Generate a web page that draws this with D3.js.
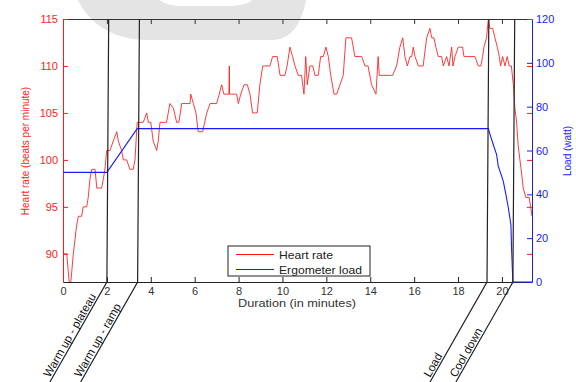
<!DOCTYPE html>
<html>
<head>
<meta charset="utf-8">
<script src="https://cdn.jsdelivr.net/npm/d3@7"></script>
<style>
  body { margin: 0; background: #fff; }
  svg { display: block; font-family: "Liberation Sans", Arial, sans-serif; }
</style>
</head>
<body>
<svg id="chart" width="576" height="382"></svg>
<script>
// heart rate samples (minutes, beats per minute)
const hrTime = [0, 0.17, 0.32, 0.47, 0.62, 0.70, 0.85, 0.92, 1.08, 1.15, 1.23, 1.31, 1.46, 1.54, 1.76, 1.84, 1.91, 1.99,
  2.14, 2.29, 2.45, 2.52, 2.67, 2.75, 2.90, 3.05, 3.20, 3.28, 3.38, 3.66, 3.81, 3.89, 4.00, 4.11, 4.27, 4.34, 4.42,
  4.72, 4.87, 5.03, 5.18, 5.28, 5.41, 5.79, 5.82, 5.94, 6.06, 6.16, 6.36, 6.55, 6.70, 7.00, 7.12, 7.23, 7.33, 7.56,
  7.58, 7.59, 7.91, 7.99, 8.10, 8.25, 8.40, 8.52, 8.64, 8.85, 8.97, 9.10, 9.43, 9.55, 9.76, 9.89, 10.11, 10.21, 10.34,
  10.46, 10.57, 10.72, 10.87, 10.98, 11.06, 11.13, 11.25, 11.38, 11.48, 11.63, 11.74, 11.86, 11.98, 12.09, 12.20,
  12.35, 12.47, 12.62, 12.77, 12.89, 13.15, 13.30, 13.61, 13.76, 13.90, 14.06, 14.26, 14.36, 14.41, 14.67, 15.02,
  15.20, 15.35, 15.48, 15.58, 15.69, 15.81, 15.89, 15.96, 16.04, 16.19, 16.41, 16.57, 16.72, 16.80, 16.90, 16.99,
  17.10, 17.25, 17.33, 17.48, 17.59, 17.71, 17.77, 17.86, 18.01, 18.21, 18.27, 18.77, 18.92, 19.04, 19.12, 19.18,
  19.30, 19.38, 19.45, 19.58, 19.68, 19.79, 19.88, 19.94, 20.03, 20.14, 20.24, 20.33, 20.43, 20.52, 20.59, 20.67,
  20.74, 20.82, 20.90, 20.97, 21.09, 21.24, 21.31, 21.37];
const hrBpm = [90, 90, 86, 90, 93, 94, 94, 95, 95, 96, 98, 99, 99, 97, 97, 98, 99, 101,
  101, 102, 103, 102, 101, 100, 100, 99, 99, 100, 104, 104, 105, 104, 104, 102, 101, 102, 104,
  104, 106, 105.5, 104, 104, 106, 106, 107, 106, 105, 103, 103, 105, 106, 106, 107, 108, 107, 107,
  110, 107, 107, 106, 107, 108, 108, 107, 105, 105, 108, 110, 110, 111, 111, 109, 109, 110, 112,
  111, 110, 109, 109, 107, 111, 108, 110, 110, 109, 109, 111, 111, 112, 111, 109,
  107, 107, 108, 109, 113, 113, 111, 111, 110, 110, 108, 107, 111, 109, 109, 109,
  110, 112, 113, 111, 110, 111, 111, 112, 111, 110, 110, 113, 114, 113, 113, 112,
  111, 111, 110, 111, 110, 112, 110, 111, 112, 112, 111, 111, 110, 110, 111, 112,
  113, 115, 114, 114, 113, 112, 111, 110, 111, 110, 111, 110, 110, 108, 105.5, 104,
  101.5, 100, 98.5, 97, 96, 96, 95, 94];

// ergometer load (minutes, watt)
const loadTime = [0, 2.0, 3.38, 19.38, 19.53, 19.76, 19.83, 20.06, 20.18, 20.29, 20.41, 20.44, 20.49, 20.5, 21.37];
const loadWatt = [50, 50, 70, 70, 65, 58, 53, 46, 40, 34, 26, 15, 2, 0, 0];

const xTicks = [0, 2, 4, 6, 8, 10, 12, 14, 16, 18, 20];
const hrTicks = [90, 95, 100, 105, 110, 115];
const loadTicks = [0, 20, 40, 60, 80, 100, 120];

const phaseTimes = [2.0, 3.4, 19.32, 20.5];
const phaseLabels = ['Warm up - plateau', 'Warm up - ramp', 'Load', 'Cool down'];

const RED = '#ff1a1a';
const BLUE = '#1a1aff';
const M = { left: 63, right: 532, top: 19, bottom: 282 };

const svg = d3.select('#chart');

// faint grey blot at top (scan artefact in the original)
svg.append('path')
  .attr('d', 'M78,0 C88,22 112,40 148,40 L272,40 C292,40 302,22 306,0 L252,0 C248,4 238,6 225,6 L185,6 C172,6 164,4 160,0 Z')
  .attr('fill', '#e4e4e4');

const x = d3.scaleLinear().domain([0, 21.37]).range([M.left, M.right]);
const yHr = d3.scaleLinear().domain([87, 115]).range([M.bottom, M.top]);
const yLoad = d3.scaleLinear().domain([0, 120]).range([M.bottom, M.top]);

svg.append('defs').append('clipPath').attr('id', 'plot-clip')
  .append('rect')
  .attr('x', M.left).attr('y', M.top)
  .attr('width', M.right - M.left).attr('height', M.bottom - M.top);

// top border with inward ticks
const topAxis = svg.append('g')
  .attr('transform', `translate(0,${M.top})`)
  .call(d3.axisTop(x).tickValues(xTicks).tickSize(-5).tickSizeOuter(0).tickFormat(''));
topAxis.selectAll('path, line').attr('stroke', '#333');

// bottom axis
const botAxis = svg.append('g')
  .attr('transform', `translate(0,${M.bottom})`)
  .call(d3.axisBottom(x).tickValues(xTicks).tickSize(-5).tickSizeOuter(0).tickPadding(5));
botAxis.selectAll('path, line').attr('stroke', '#222');
botAxis.selectAll('text').attr('font-size', 11).attr('fill', '#333').attr('font-family', null);

// left axis (heart rate)
const leftAxis = svg.append('g')
  .attr('transform', `translate(${M.left},0)`)
  .call(d3.axisLeft(yHr).tickValues(hrTicks).tickSize(-5).tickSizeOuter(0).tickPadding(5));
leftAxis.selectAll('path, line').attr('stroke', RED);
leftAxis.selectAll('text').attr('font-size', 11).attr('fill', RED).attr('font-family', null);

// right axis (load) plus mirrored heart-rate ticks
const rightAxis = svg.append('g')
  .attr('transform', `translate(${M.right},0)`)
  .call(d3.axisRight(yLoad).tickValues(loadTicks).tickSize(-5).tickSizeOuter(0).tickPadding(4));
rightAxis.selectAll('path, line').attr('stroke', BLUE);
rightAxis.selectAll('text').attr('font-size', 11).attr('fill', BLUE).attr('font-family', null);

const rightHr = svg.append('g')
  .attr('transform', `translate(${M.right},0)`)
  .call(d3.axisRight(yHr).tickValues(hrTicks).tickSize(-5).tickFormat(''));
rightHr.select('.domain').remove();
rightHr.selectAll('line').attr('stroke', RED);

// data lines
const plot = svg.append('g').attr('clip-path', 'url(#plot-clip)');

const hrLine = d3.line().x((d, i) => x(hrTime[i])).y(d => yHr(d));
plot.append('path')
  .datum(hrBpm)
  .attr('d', hrLine)
  .attr('fill', 'none')
  .attr('stroke', RED)
  .attr('stroke-width', 1)
  .attr('stroke-opacity', 0.85);

const loadLine = d3.line().x((d, i) => x(loadTime[i])).y(d => yLoad(d));
svg.append('path')
  .datum(loadWatt)
  .attr('d', loadLine)
  .attr('fill', 'none')
  .attr('stroke', BLUE)
  .attr('stroke-width', 1.1);

// phase markers
const SLANT = 57 / 100; // horizontal shift per pixel below the axis
const ANGLE = -Math.atan2(100, 57) * 180 / Math.PI;
const phases = svg.append('g');
phaseTimes.forEach((t, i) => {
  const xb = x(t);
  phases.append('path')
    .attr('d', `M${xb + 1.8},${M.top} L${xb},${M.bottom} L${xb - SLANT * 100},${M.bottom + 100}`)
    .attr('fill', 'none')
    .attr('stroke', '#222')
    .attr('stroke-width', 1.2);
  const ly = 379;
  const lx = xb - SLANT * (ly - M.bottom);
  phases.append('text')
    .attr('transform', `translate(${lx},${ly}) rotate(${ANGLE})`)
    .attr('dy', -2)
    .attr('font-size', 11.5)
    .attr('fill', '#111')
    .text(phaseLabels[i]);
});

// axis titles
svg.append('text')
  .attr('x', 297).attr('y', 307)
  .attr('text-anchor', 'middle')
  .attr('font-size', 11)
  .attr('fill', '#333')
  .attr('textLength', 118).attr('lengthAdjust', 'spacingAndGlyphs')
  .text('Duration (in minutes)');

svg.append('text')
  .attr('transform', 'translate(29,151) rotate(-90)')
  .attr('text-anchor', 'middle')
  .attr('font-size', 10)
  .attr('fill', RED)
  .text('Heart rate (beats per minute)');

svg.append('text')
  .attr('transform', 'translate(571,151) rotate(-90)')
  .attr('text-anchor', 'middle')
  .attr('font-size', 10)
  .attr('fill', BLUE)
  .text('Load (watt)');

// legend
const legend = svg.append('g').attr('transform', 'translate(228,246)');
legend.append('rect')
  .attr('width', 142).attr('height', 30)
  .attr('fill', '#fff').attr('stroke', '#222').attr('stroke-width', 1);
const legendItems = [
  { label: 'Heart rate', color: RED, len: 54 },
  { label: 'Ergometer load', color: BLUE, len: 83 }
];
legendItems.forEach((d, i) => {
  const ly = 8.5 + i * 15;
  legend.append('line')
    .attr('x1', 8).attr('x2', 46).attr('y1', ly).attr('y2', ly)
    .attr('stroke', d.color).attr('stroke-width', 1);
  legend.append('text')
    .attr('x', 51).attr('y', ly + 4)
    .attr('font-size', 11)
    .attr('fill', '#222')
    .attr('textLength', d.len).attr('lengthAdjust', 'spacingAndGlyphs')
    .text(d.label);
});
</script>
</body>
</html>
